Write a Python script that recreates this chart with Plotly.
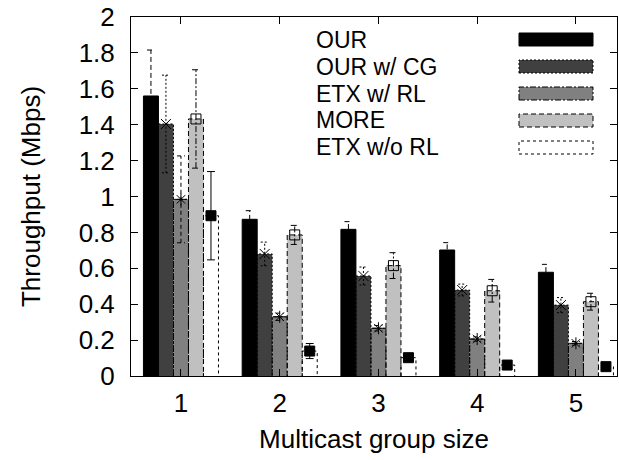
import plotly.graph_objects as go

# Multicast group sizes on the x axis
group_sizes = [1, 2, 3, 4, 5]
series_names = ["OUR", "OUR w/ CG", "ETX w/ RL", "MORE", "ETX w/o RL"]

# Mean throughput (Mbps) and error half-widths per series
our = [1.56, 0.873, 0.817, 0.702, 0.578]
our_err = [0.256, 0.048, 0.043, 0.041, 0.044]
our_cg = [1.404, 0.680, 0.557, 0.479, 0.395]
our_cg_err = [0.272, 0.066, 0.050, 0.033, 0.042]
etx_rl = [0.984, 0.330, 0.266, 0.206, 0.182]
etx_rl_err = [0.242, 0.020, 0.015, 0.012, 0.010]
more = [1.432, 0.786, 0.615, 0.475, 0.414]
more_err = [0.274, 0.053, 0.072, 0.063, 0.047]
etx_norl = [0.893, 0.139, 0.102, 0.061, 0.052]
etx_norl_err = [0.246, 0.042, 0.012, 0.010, 0.008]

values = [our, our_cg, etx_rl, more, etx_norl]
errors = [our_err, our_cg_err, etx_rl_err, more_err, etx_norl_err]

fills = ["#000000", "#404040", "#808080", "#c0c0c0", "#ffffff"]
border_dash = ["solid", "2px,2px", "6px,2px,2px,2px", "5px,3px", "3px,3px"]
err_dash = ["5px,3px", "2px,2px", "4px,3px", "6px,2px,2px,2px", "solid"]
marker_sym = [None, "x-thin-open", "asterisk-open", "square-open", "square"]

BAR_W = 0.152
CAP = 0.04
FONT = "Liberation Sans, Arial, sans-serif"
FS = 26
FS_KEY = 23

fig = go.Figure()

for i, (name, vals, errs) in enumerate(zip(series_names, values, errors)):
    off = (i - 2.5) * BAR_W
    fig.add_trace(go.Bar(
        x=group_sizes, y=vals, width=BAR_W, offset=off,
        marker=dict(color=fills[i], line=dict(width=0)),
        name=name, showlegend=False,
    ))
    # dashed bar outlines (left, top, right sides)
    ox, oy = [], []
    for g, v in zip(group_sizes, vals):
        x0, x1 = g + off, g + off + BAR_W
        ox += [x0, x0, x1, x1, None]
        oy += [0, v, v, 0, None]
    fig.add_trace(go.Scatter(
        x=ox, y=oy, mode="lines", showlegend=False, hoverinfo="skip",
        line=dict(color="black", width=1, dash=border_dash[i]),
    ))

for i, (vals, errs) in enumerate(zip(values, errors)):
    cx = [g + (i - 2) * BAR_W for g in group_sizes]
    ex, ey = [], []
    for c, v, e in zip(cx, vals, errs):
        ex += [c, c, None, c - CAP, c + CAP, None, c - CAP, c + CAP, None]
        ey += [v - e, v + e, None, v + e, v + e, None, v - e, v - e, None]
    fig.add_trace(go.Scatter(
        x=ex, y=ey, mode="lines", showlegend=False, hoverinfo="skip",
        line=dict(color="black", width=1, dash=err_dash[i]),
    ))
    if marker_sym[i]:
        fig.add_trace(go.Scatter(
            x=cx, y=vals, mode="markers", showlegend=False,
            marker=dict(symbol=marker_sym[i], size=10, color="black",
                        line=dict(color="black", width=1)),
        ))

# Key: label on the left, sample box on the right
PX0, PY0, PW, PH = 131, 17, 486, 359
row_y = [39.5, 66.5, 93.5, 120.5, 147.5]
for i, name in enumerate(series_names):
    yp = (PY0 + PH - row_y[i]) / PH
    fig.add_annotation(
        x=(317 - PX0) / PW, y=yp, xref="paper", yref="paper",
        text=name, showarrow=False, xanchor="left", yanchor="middle",
        xshift=-2, borderpad=0,
        font=dict(family=FONT, size=FS_KEY, color="black"),
    )
    fig.add_shape(
        type="rect", xref="paper", yref="paper",
        x0=(519 - PX0) / PW, x1=(593 - PX0) / PW,
        y0=yp - 6.5 / PH, y1=yp + 6.5 / PH,
        fillcolor=fills[i],
        line=dict(color="black", width=1, dash=border_dash[i]),
    )

axis_common = dict(
    showline=True, linecolor="black", linewidth=1, mirror="allticks",
    ticks="inside", ticklen=7, tickcolor="black", tickwidth=1,
    showgrid=False, zeroline=False,
    tickfont=dict(family=FONT, size=FS, color="black"),
)

fig.update_xaxes(
    range=[0.494, 5.416], tickvals=group_sizes,
    ticktext=[str(g) for g in group_sizes],
    title=dict(text="Multicast group size", standoff=12,
               font=dict(family=FONT, size=FS, color="black")),
    ticklabelstandoff=4,
    **axis_common,
)
fig.update_yaxes(
    range=[0, 2], tickvals=[0, 0.2, 0.4, 0.6, 0.8, 1, 1.2, 1.4, 1.6, 1.8, 2],
    ticktext=["0", "0.2", "0.4", "0.6", "0.8", "1", "1.2", "1.4", "1.6", "1.8", "2"],
    title=dict(text="Throughput (Mbps)", standoff=30,
               font=dict(family=FONT, size=FS, color="black")),
    ticklabelstandoff=10,
    **axis_common,
)

fig.update_layout(
    width=619, height=460,
    margin=dict(l=131, r=2, t=17, b=84),
    plot_bgcolor="white", paper_bgcolor="white",
    barmode="overlay", showlegend=False,
    font=dict(family=FONT, size=FS, color="black"),
)

fig.write_html("out.html")
